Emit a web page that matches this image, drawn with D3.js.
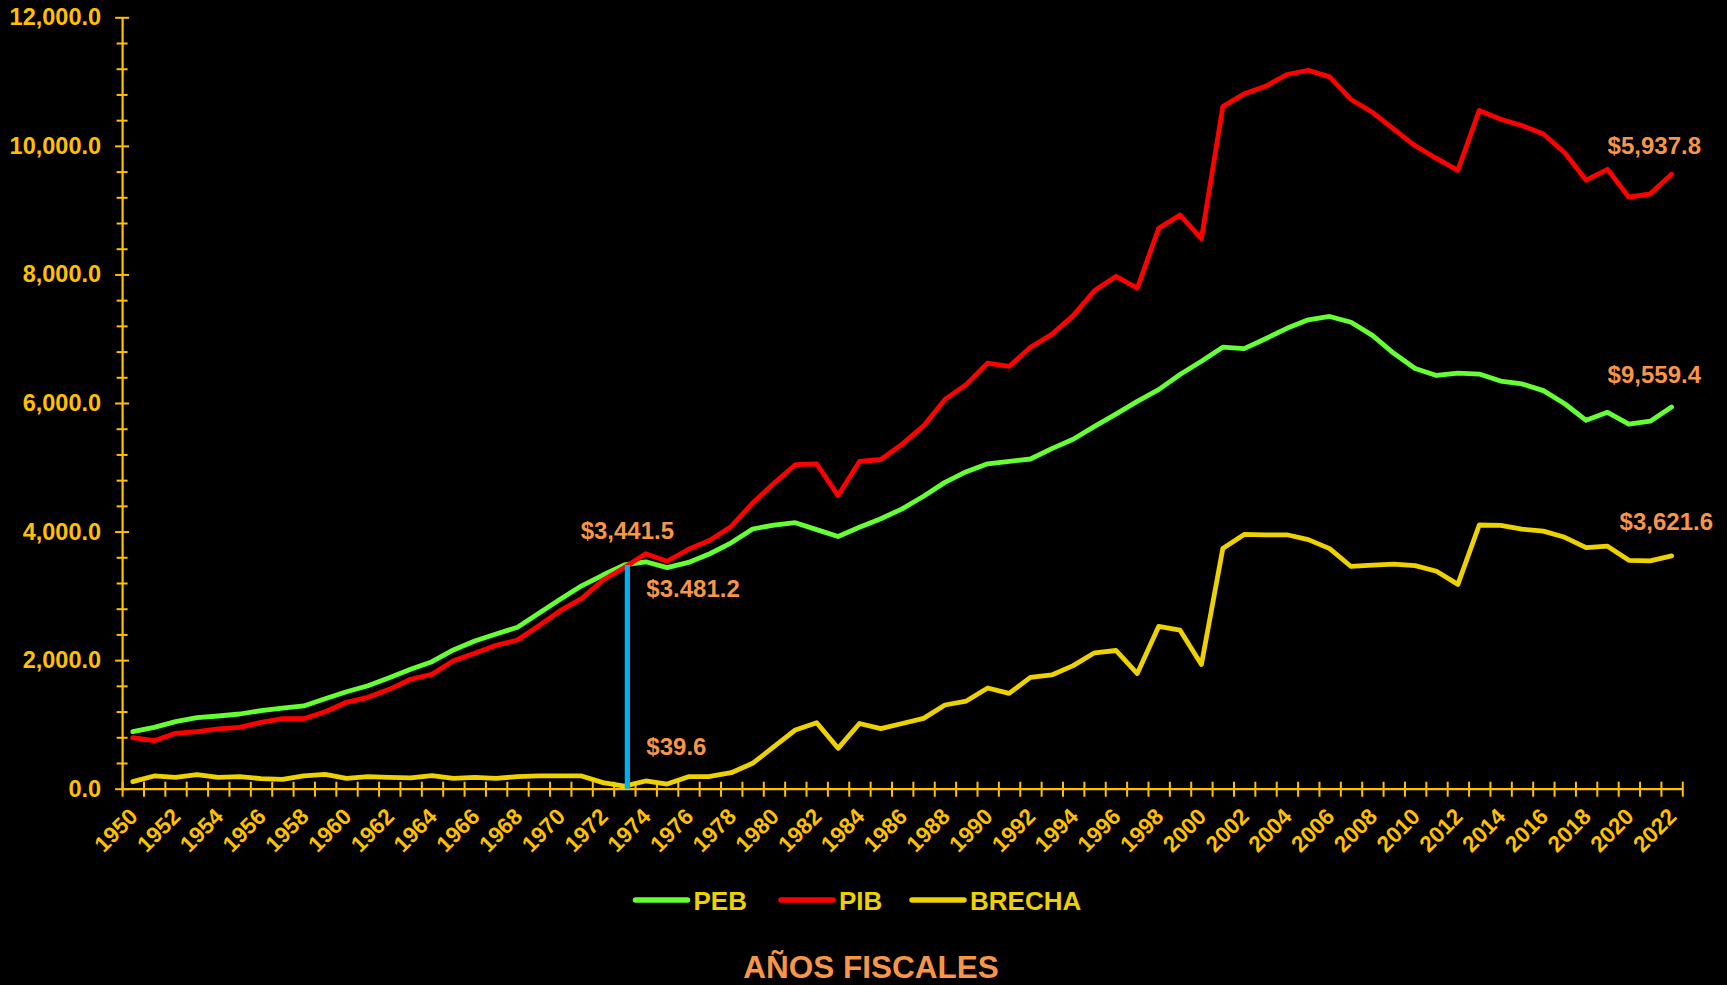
<!DOCTYPE html>
<html><head><meta charset="utf-8">
<script src="https://cdn.jsdelivr.net/npm/d3@7"></script>
<style>html,body{margin:0;padding:0;background:#000;} svg{display:block;}</style>
</head><body>
<svg id="chart" width="1727" height="985"></svg>
<script>
// ---------- DATA ----------
const years = [1950,1951,1952,1953,1954,1955,1956,1957,1958,1959,
  1960,1961,1962,1963,1964,1965,1966,1967,1968,1969,
  1970,1971,1972,1973,1974,1975,1976,1977,1978,1979,
  1980,1981,1982,1983,1984,1985,1986,1987,1988,1989,
  1990,1991,1992,1993,1994,1995,1996,1997,1998,1999,
  2000,2001,2002,2003,2004,2005,2006,2007,2008,2009,
  2010,2011,2012,2013,2014,2015,2016,2017,2018,2019,
  2020,2021,2022];

const peb = [887,955,1043,1105,1131,1162,1214,1255,1287,1400,
  1509,1602,1727,1857,1976,2158,2298,2407,2511,2728,
  2946,3156,3324,3481.2,3530,3440,3520,3655,3825,4040,
  4101,4138,4030,3923,4066,4199,4353,4550,4765,4931,
  5054,5092,5129,5291,5437,5636,5826,6025,6208,6443,
  6649,6868,6846,7000,7162,7294,7346,7257,7052,6773,
  6538,6428,6465,6450,6341,6296,6193,5988,5731,5855,
  5672,5717,5937.8];

const pib = [794,747,862,887,929,955,1033,1089,1089,1198,
  1344,1422,1546,1702,1780,1991,2106,2231,2313,2536,
  2769,2956,3247,3441.5,3655,3538,3725,3865,4080,4443,
  4751,5040,5054,4560,5090,5121,5361,5644,6056,6290,
  6622,6568,6868,7067,7360,7749,7969,7786,8718,8923,
  8556,10611,10809,10927,11110,11176,11073,10721,10522,10259,
  10001,9804,9620,10552,10413,10317,10185,9892,9466,9635,
  9202,9253,9559.4];

const brecha = [109,198,177,218,177,187,156,146,198,224,
  162,187,177,167,202,162,177,162,187,198,
  198,198,95,39.6,120,73,187,190,249,395,
  653,913,1027,628,1014,934,1014,1094,1302,1364,
  1567,1482,1732,1769,1915,2114,2150,1791,2525,2466,
  1931,3735,3956,3950,3950,3875,3735,3457,3478,3493,
  3470,3383,3178,4102,4095,4037,4007,3911,3751,3772,
  3552,3545,3621.6];

const seriesNames = ["PEB","PIB","BRECHA"];
const yTickValues = [0,2000,4000,6000,8000,10000,12000];
const xLabelYears = years.filter(yr => yr % 2 === 0);
const markYear = 1973;
const annoTexts = ["$3,441.5","$3.481.2","$39.6","$5,937.8","$9,559.4","$3,621.6"];
const titleText = "AÑOS FISCALES";

// ---------- STYLE ----------
const FONT = "'Liberation Sans', Arial, sans-serif";
const AX = "#FFC000";
const COLORS = {PEB:"#66FF33", PIB:"#FF0000", BRECHA:"#EDD100"};
const ORANGE = "#F79646";

const svg = d3.select("#chart");
svg.append("rect").attr("width",1727).attr("height",985).attr("fill","#000");

const x = d3.scaleLinear().domain([years[0]-0.5, years[years.length-1]+0.5]).range([122.1, 1682.3]);
const y = d3.scaleLinear().domain([0,12000]).range([788.7, 17.3]);

// ---------- Y AXIS ----------
const fmt = d3.format(",.1f");
const yAxis = d3.axisLeft(y)
  .tickValues(d3.range(0, 12001, 400))
  .tickSizeOuter(0)
  .tickFormat(d => yTickValues.includes(d) ? fmt(d) : "");
const gy = svg.append("g").attr("transform", `translate(${x.range()[0]},0)`).call(yAxis);
gy.select(".domain").attr("stroke", AX).attr("stroke-width", 2.2);
gy.selectAll(".tick line").attr("stroke", AX).attr("stroke-width", 2)
  .attr("x1", d => yTickValues.includes(d) ? -7 : -5.5)
  .attr("x2", d => yTickValues.includes(d) ? 7 : 5.5);
gy.selectAll(".tick text").attr("x", -21).attr("fill", AX)
  .style("font-family", FONT).style("font-weight", "bold").style("font-size", "23.5px");

// ---------- X AXIS ----------
const bounds = years.map(yr => yr - 0.5).concat([years[years.length-1] + 0.5]);
const xAxis = d3.axisBottom(x).tickValues(bounds).tickSizeOuter(0).tickFormat("");
const gx = svg.append("g").attr("transform", `translate(0,${y(0)})`).call(xAxis);
gx.select(".domain").attr("stroke", AX).attr("stroke-width", 2.2);
gx.selectAll(".tick line").attr("stroke", AX).attr("stroke-width", 2).attr("y1", -7).attr("y2", 8);

svg.append("g").selectAll("text").data(xLabelYears).join("text")
  .attr("transform", d => `translate(${x(d)+1},${y(0)+24}) rotate(-45)`)
  .attr("text-anchor", "end")
  .attr("dominant-baseline", "central")
  .attr("fill", AX)
  .style("font-family", FONT).style("font-weight", "bold").style("font-size", "22.5px")
  .text(d => d);

// ---------- LINES ----------
const seriesData = {PEB: peb, PIB: pib, BRECHA: brecha};
const line = d3.line().x((d,i) => x(years[i])).y(d => y(d));
seriesNames.forEach(name => {
  svg.append("path").datum(seriesData[name])
    .attr("d", line)
    .attr("fill", "none")
    .attr("stroke", COLORS[name])
    .attr("stroke-width", 4.8)
    .attr("stroke-linejoin", "round")
    .attr("stroke-linecap", "round");
});

// ---------- MARKER LINE ----------
const mi = years.indexOf(markYear);
const mx = x(markYear) + 3;
svg.append("line")
  .attr("x1", mx).attr("x2", mx)
  .attr("y1", y(peb[mi])).attr("y2", y(0))
  .attr("stroke", "#00B0F0").attr("stroke-width", 5.2);

// ---------- ANNOTATIONS ----------
const last = years.length - 1;
const xe = x(years[last]);
const annos = [
  {t: annoTexts[0], x: mx, y: y(peb[mi]) - 26, anchor: "middle"},
  {t: annoTexts[1], x: x(markYear) + 22, y: y(peb[mi]) + 32, anchor: "start"},
  {t: annoTexts[2], x: x(markYear) + 22, y: y(brecha[mi]) - 31, anchor: "start"},
  {t: annoTexts[3], x: xe - 64, y: y(pib[last]) - 20, anchor: "start"},
  {t: annoTexts[4], x: xe - 64, y: y(peb[last]) - 24, anchor: "start"},
  {t: annoTexts[5], x: xe - 52, y: y(brecha[last]) - 26, anchor: "start"}
];
svg.append("g").selectAll("text").data(annos).join("text")
  .attr("x", d => d.x).attr("y", d => d.y)
  .attr("text-anchor", d => d.anchor)
  .attr("fill", ORANGE)
  .style("font-family", FONT).style("font-weight", "bold").style("font-size", "24px")
  .text(d => d.t);

// ---------- LEGEND ----------
const legendStarts = [635.5, 781, 912];
const lg = svg.append("g");
seriesNames.forEach((name, i) => {
  const sx = legendStarts[i];
  lg.append("line").attr("x1", sx).attr("x2", sx + 52).attr("y1", 900).attr("y2", 900)
    .attr("stroke", COLORS[name]).attr("stroke-width", 5.5).attr("stroke-linecap", "round");
  lg.append("text").attr("x", sx + 58).attr("y", 901)
    .attr("dominant-baseline", "central")
    .attr("fill", "#EDD100")
    .style("font-family", FONT).style("font-weight", "bold").style("font-size", "26px")
    .text(name);
});

// ---------- TITLE ----------
svg.append("text").attr("x", 871).attr("y", 978)
  .attr("text-anchor", "middle").attr("fill", ORANGE)
  .style("font-family", FONT).style("font-weight", "bold").style("font-size", "31.5px")
  .text(titleText);
</script>
</body></html>
